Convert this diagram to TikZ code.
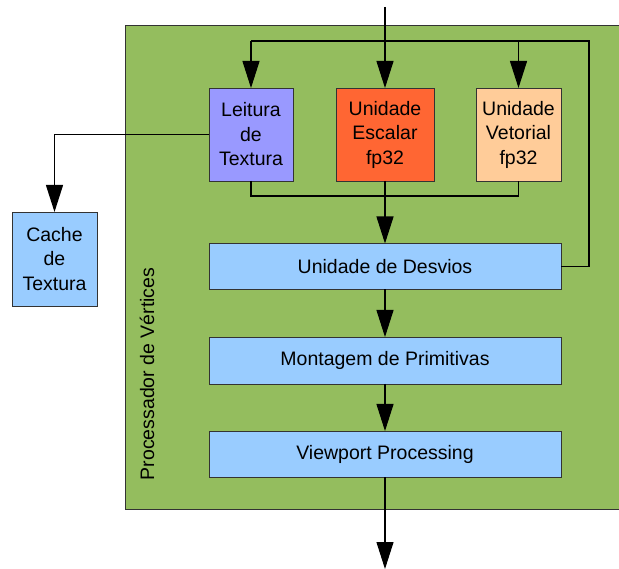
\documentclass[tikz,border=0pt]{standalone}
\usepackage{fontspec}
\setmainfont{Liberation Sans}
\usetikzlibrary{arrows.meta}
\definecolor{grn}{HTML}{94BD5E}
\definecolor{lilac}{HTML}{9999FF}
\definecolor{orng}{HTML}{FF6633}
\definecolor{peach}{HTML}{FFCC99}
\definecolor{lblue}{HTML}{99CCFF}
\definecolor{edge}{HTML}{333333}
\begin{document}
\begin{tikzpicture}[x=1pt,y=-1pt,
  unit/.style={draw=edge,line width=0.9pt,inner sep=0pt,outer sep=0pt,align=center,
    font=\fontsize{19.5}{24.5}\selectfont},
  wire/.style={line width=1.1pt,black},
  arr/.style={wire,-{Triangle[length=27pt,width=17pt]}}]
\useasboundingbox (0,0) rectangle (619,569);
% container
\fill[grn] (125,25) rectangle (620,509);
\draw[edge,line width=0.9pt] (620,25) -- (125,25) -- (125,509) -- (620,509);
\node[rotate=90,font=\fontsize{19.5}{24.5}\selectfont] (lbl) at (147,374) {Processador de Vértices};
% units
\node[unit,fill=lilac,minimum width=84pt,minimum height=93pt] (lei) at (251,134.5) {Leitura\\de\\Textura};
\node[unit,fill=orng,minimum width=98pt,minimum height=93pt] (esc) at (385,134.5) {Unidade\\Escalar\\fp32};
\node[unit,fill=peach,minimum width=85pt,minimum height=93pt] (vet) at (518.5,134.5) {Unidade\\Vetorial\\fp32};
\node[unit,fill=lblue,minimum width=352pt,minimum height=46pt] (desv) at (385,266.5) {Unidade de Desvios};
\node[unit,fill=lblue,minimum width=352pt,minimum height=47pt] (mont) at (385,360.5) {Montagem de Primitivas};
\node[unit,fill=lblue,minimum width=352pt,minimum height=46pt] (view) at (385,454) {Viewport Processing};
\node[unit,fill=lblue,minimum width=85pt,minimum height=94pt] (cache) at (54.5,259) {Cache\\de\\Textura};
% coordinates
\coordinate (in) at (385,7);
\coordinate (top) at (589,41);
\coordinate (merge) at (385,196);
\coordinate (out) at (385,569);
% connectors
\draw[arr] (in) -- (esc.north);
\draw[wire,line width=1.3pt] (desv.east) -| (top) -- (lei.north |- top);
\draw[arr] (lei.north |- top) -- (lei.north);
\draw[arr] (vet.north |- top) -- (vet.north);
\draw[arr] (lei.west) -| (cache.north);
\draw[wire] (lei.south) |- (merge) -| (vet.south);
\draw[arr] (esc.south) -- (desv.north);
\draw[arr] (desv.south) -- (mont.north);
\draw[arr] (mont.south) -- (view.north);
\draw[arr] (view.south) -- (out);
\end{tikzpicture}
\end{document}
